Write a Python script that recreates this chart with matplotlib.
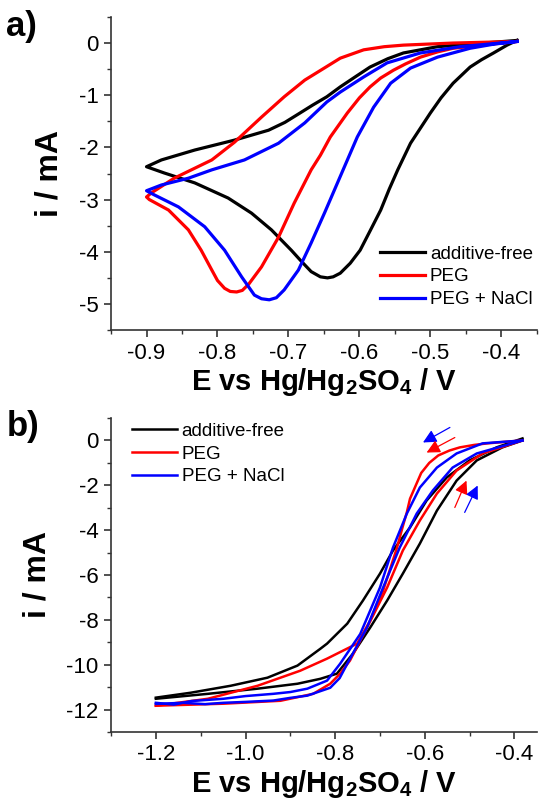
import matplotlib
matplotlib.use("Agg")
import matplotlib.pyplot as plt
from matplotlib.ticker import MultipleLocator

plt.rcParams['font.family'] = ['Liberation Sans', 'DejaVu Sans']
plt.rcParams['axes.unicode_minus'] = False
plt.rcParams['mathtext.fontset'] = 'custom'
plt.rcParams['mathtext.bf'] = 'Liberation Sans:bold'
plt.rcParams['mathtext.rm'] = 'Liberation Sans'

# ---- panel a: cyclic voltammograms (E in V, i in mA)
a_free_E = [-0.378, -0.392, -0.411, -0.428, -0.444, -0.468, -0.485, -0.500, -0.528, -0.546,
            -0.558, -0.570, -0.585, -0.599, -0.613, -0.627, -0.637, -0.645, -0.655, -0.668,
            -0.682, -0.696, -0.724, -0.752, -0.785, -0.832, -0.875, -0.900,
            -0.879, -0.832, -0.776, -0.728, -0.705, -0.686, -0.666, -0.646, -0.627, -0.605,
            -0.585, -0.560, -0.538, -0.490, -0.444, -0.378]
a_free_i = [0.05, -0.04, -0.19, -0.32, -0.46, -0.77, -1.05, -1.34, -1.92, -2.43,
            -2.80, -3.20, -3.60, -3.97, -4.22, -4.41, -4.48, -4.50, -4.48, -4.38,
            -4.18, -3.97, -3.58, -3.26, -2.97, -2.68, -2.49, -2.37,
            -2.24, -2.05, -1.86, -1.67, -1.52, -1.36, -1.19, -1.03, -0.84, -0.64,
            -0.46, -0.30, -0.19, -0.07, -0.02, 0.05]

a_peg_E = [-0.378, -0.420, -0.468, -0.490, -0.514, -0.535, -0.552, -0.570, -0.585, -0.600,
           -0.617, -0.641, -0.655, -0.668, -0.692, -0.714, -0.738, -0.756, -0.765, -0.773,
           -0.782, -0.790, -0.800, -0.808, -0.823, -0.841, -0.869, -0.896, -0.900,
           -0.893, -0.861, -0.808, -0.776, -0.738, -0.706, -0.677, -0.646, -0.627, -0.594,
           -0.565, -0.538, -0.468, -0.378]
a_peg_i = [0.03, -0.03, -0.10, -0.17, -0.27, -0.40, -0.52, -0.67, -0.84, -1.05,
           -1.34, -1.80, -2.15, -2.43, -3.07, -3.72, -4.29, -4.62, -4.74, -4.77,
           -4.76, -4.70, -4.55, -4.35, -3.97, -3.58, -3.20, -3.00, -2.95,
           -2.87, -2.59, -2.24, -1.90, -1.42, -1.03, -0.71, -0.45, -0.29, -0.13,
           -0.07, -0.04, 0.00, 0.03]

a_nacl_E = [-0.378, -0.410, -0.444, -0.490, -0.528, -0.556, -0.580, -0.603, -0.623, -0.649,
            -0.668, -0.686, -0.706, -0.717, -0.727, -0.738, -0.748, -0.766, -0.790, -0.818,
            -0.855, -0.889, -0.900,
            -0.879, -0.841, -0.808, -0.762, -0.714, -0.677, -0.646, -0.627, -0.594, -0.561,
            -0.514, -0.458, -0.378]
a_nacl_i = [0.03, -0.02, -0.10, -0.27, -0.48, -0.77, -1.23, -1.80, -2.43, -3.25,
            -3.83, -4.35, -4.73, -4.88, -4.92, -4.90, -4.83, -4.48, -3.97, -3.52,
            -3.14, -2.91, -2.83,
            -2.72, -2.59, -2.43, -2.24, -1.92, -1.53, -1.13, -0.94, -0.65, -0.38,
            -0.19, -0.07, 0.03]

# ---- panel b: linear sweeps, forward and backward branches
b_free_E = [-1.200, -1.122, -1.033, -0.951, -0.884, -0.833, -0.818, -0.773, -0.738, -0.700,
            -0.671, -0.633, -0.596, -0.551, -0.500, -0.440, -0.382]
b_free_i = [-11.47, -11.25, -10.94, -10.58, -10.04, -9.29, -9.06, -8.17, -7.14, -5.94,
            -4.91, -3.88, -2.68, -1.65, -0.89, -0.31, 0.09]
b_free_E2 = [-1.200, -1.084, -0.973, -0.884, -0.833, -0.796, -0.760, -0.722, -0.684, -0.649,
             -0.611, -0.573, -0.529, -0.484, -0.427, -0.382]
b_free_i2 = [-11.52, -11.30, -11.07, -10.85, -10.63, -10.40, -9.50, -8.35, -7.14, -5.94,
             -4.60, -3.13, -1.79, -0.89, -0.31, 0.00]

b_peg_E = [-1.200, -1.084, -0.973, -0.878, -0.818, -0.751, -0.722, -0.693, -0.662, -0.650,
           -0.640, -0.633, -0.620, -0.608, -0.590, -0.570, -0.545, -0.522, -0.490, -0.460,
           -0.420, -0.382]
b_peg_i = [-11.83, -11.52, -10.94, -10.27, -9.73, -9.06, -8.04, -6.70, -4.78, -3.90,
           -3.20, -2.60, -2.00, -1.45, -1.00, -0.67, -0.45, -0.31, -0.20, -0.13,
           -0.06, 0.00]
b_peg_E2 = [-1.200, -1.049, -0.922, -0.849, -0.811, -0.789, -0.767, -0.729, -0.684, -0.649,
            -0.611, -0.573, -0.529, -0.471, -0.382]
b_peg_i2 = [-11.83, -11.74, -11.61, -11.30, -10.85, -10.40, -9.82, -8.35, -6.56, -4.91,
            -3.57, -2.37, -1.34, -0.58, 0.00]

b_nacl_E = [-1.200, -1.160, -1.120, -1.049, -1.000, -0.938, -0.900, -0.862, -0.818, -0.789,
            -0.770, -0.744, -0.700, -0.671, -0.640, -0.611, -0.573, -0.529, -0.471, -0.382]
b_nacl_i = [-11.70, -11.78, -11.62, -11.52, -11.40, -11.30, -11.22, -11.07, -10.71, -9.96,
            -9.40, -8.63, -6.56, -4.78, -3.26, -2.10, -1.21, -0.58, -0.13, 0.00]
b_nacl_E2 = [-1.200, -1.140, -1.090, -1.049, -1.000, -0.938, -0.900, -0.862, -0.811, -0.790,
             -0.773, -0.729, -0.693, -0.656, -0.618, -0.582, -0.538, -0.484, -0.382]
b_nacl_i2 = [-11.75, -11.70, -11.76, -11.70, -11.66, -11.60, -11.48, -11.38, -11.03, -10.60,
             -9.96, -8.35, -6.56, -4.78, -3.26, -2.23, -1.21, -0.58, 0.00]

# scan direction arrows: (tail E, tail i, head E, head i, colour)
b_arrows = [(-0.544, 0.58, -0.604, -0.09, 'blue'),
            (-0.533, 0.13, -0.596, -0.54, 'red'),
            (-0.533, -2.99, -0.507, -1.79, 'red'),
            (-0.511, -3.21, -0.482, -2.01, 'blue')]

labels = ['additive-free', 'PEG', 'PEG + NaCl']
colors = ['black', 'red', 'blue']

xlabel = r'E vs Hg/Hg$_\mathbf{2}$SO$_\mathbf{4}$ / V'

fig = plt.figure(figsize=(5.39, 8.07), dpi=100)
ax_a = fig.add_axes([0.206, 0.591, 0.790, 0.388])
ax_b = fig.add_axes([0.206, 0.093, 0.790, 0.389])

for E, i, c, lab in zip([a_free_E, a_peg_E, a_nacl_E], [a_free_i, a_peg_i, a_nacl_i], colors, labels):
    ax_a.plot(E, i, color=c, lw=2.3, label=lab, solid_joinstyle='round')

b_sets = [(b_free_E, b_free_i, b_free_E2, b_free_i2),
          (b_peg_E, b_peg_i, b_peg_E2, b_peg_i2),
          (b_nacl_E, b_nacl_i, b_nacl_E2, b_nacl_i2)]
for (E1, i1, E2, i2), c, lab in zip(b_sets, colors, labels):
    ax_b.plot(E1, i1, color=c, lw=1.8, label=lab, solid_joinstyle='round')
    ax_b.plot(E2, i2, color=c, lw=1.8, solid_joinstyle='round')

for te, ti, he, hi, c in b_arrows:
    ax_b.annotate('', xy=(he, hi), xytext=(te, ti),
                  arrowprops=dict(arrowstyle='-|>', color=c, lw=0.9, mutation_scale=20,
                                  shrinkA=0, shrinkB=0))

ax_a.set_xlim(-0.95, -0.35)
ax_a.set_ylim(-5.5, 0.5)
ax_a.xaxis.set_minor_locator(MultipleLocator(0.05))
ax_a.yaxis.set_major_locator(MultipleLocator(1))
ax_a.yaxis.set_minor_locator(MultipleLocator(0.5))
ax_a.set_xticks([-0.9, -0.8, -0.7, -0.6, -0.5, -0.4])
ax_a.set_xticklabels(['-0.9', '-0.8', '-0.7', '-0.6', '-0.5', '-0.4'])

ax_b.set_xlim(-1.3, -0.35)
ax_b.set_ylim(-13, 1)
ax_b.xaxis.set_minor_locator(MultipleLocator(0.1))
ax_b.set_xticks([-1.2, -1.0, -0.8, -0.6, -0.4])
ax_b.set_xticklabels(['-1.2', '-1.0', '-0.8', '-0.6', '-0.4'])
ax_b.yaxis.set_major_locator(MultipleLocator(2))
ax_b.yaxis.set_minor_locator(MultipleLocator(1))

for ax in (ax_a, ax_b):
    ax.spines['top'].set_visible(False)
    ax.spines['right'].set_visible(False)
    for s in ('left', 'bottom'):
        ax.spines[s].set_linewidth(1.2)
        ax.spines[s].set_color('#333333')
    ax.tick_params(which='major', direction='out', length=5, width=1.2, labelsize=16,
                   pad=4, color='#333333')
    ax.tick_params(which='minor', direction='out', length=3, width=1.0, color='#333333')
    ax.set_xlabel(xlabel, fontsize=21, fontweight='bold', labelpad=2)
    ax.set_ylabel('i / mA', fontsize=23, fontweight='bold', labelpad=10)

ax_a.legend(loc='upper left', bbox_to_anchor=(0.632, 0.27), frameon=False, fontsize=13.5,
            handlelength=2.4, handletextpad=0.25, labelspacing=0.3, borderpad=0, borderaxespad=0)
ax_b.legend(loc='upper left', bbox_to_anchor=(0.049, 0.985), frameon=False, fontsize=13.5,
            handlelength=2.4, handletextpad=0.25, labelspacing=0.3, borderpad=0, borderaxespad=0)

fig.text(0.012, 0.988, 'a)', fontsize=25, fontweight='bold', va='top')
fig.text(0.012, 0.492, 'b)', fontsize=25, fontweight='bold', va='top')

fig.savefig('out.png', dpi=100)
